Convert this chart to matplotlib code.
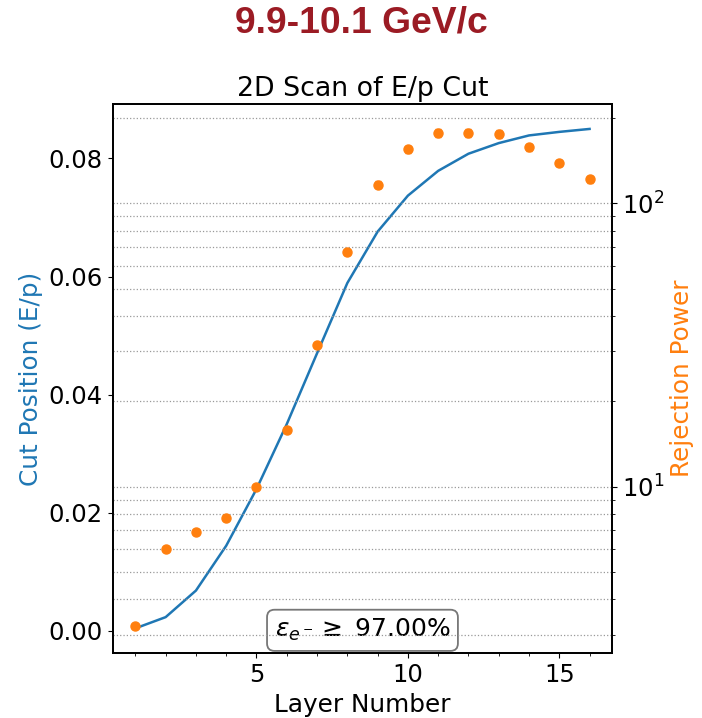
import matplotlib
matplotlib.use("Agg")
import matplotlib.pyplot as plt
import numpy as np

# ------------------------------------------------------------------
# Scan results per calorimeter layer
# ------------------------------------------------------------------
layers = np.arange(1, 17)
cut_position = [0.0004, 0.0023, 0.0068, 0.0144, 0.0240, 0.0350, 0.0470, 0.0589,
                0.0676, 0.0737, 0.0779, 0.0808, 0.0826, 0.0839, 0.0845, 0.0850]
rejection = [3.21, 6.0, 6.93, 7.72, 9.97, 15.9, 31.5, 67.2,
             116.4, 155.0, 176.9, 177.5, 175.4, 158.0, 138.7, 121.6]
rejection_err = [0.05, 0.08, 0.09, 0.1, 0.13, 0.25, 0.6, 1.5,
                 3.0, 4.5, 5.5, 5.5, 5.5, 4.5, 3.8, 3.2]

momentum_bin = "9.9-10.1 GeV/c"
efficiency = 97.00

plt.rcParams["font.family"] = ["DejaVu Sans"]

fig = plt.figure(figsize=(7.02, 7.18), dpi=100)
ax = fig.add_axes([0.1605, 0.0901, 0.7117, 0.7651])
ax2 = ax.twinx()

# Cut position (left axis)
ax.plot(layers, cut_position, color="#1f77b4", lw=1.8)
ax.set_ylabel("Cut Position (E/p)", color="#1f77b4", fontsize=17.8)
ax.set_xlabel("Layer Number", fontsize=17.8)
ax.set_title("2D Scan of E/p Cut", fontsize=19.3)
ax.set_xticks([5, 10, 15])
ax.set_xticks(layers, minor=True)
ax.tick_params(axis="both", which="major", labelsize=17.5)

# Rejection power (right axis, log scale)
ax2.errorbar(layers, rejection, yerr=rejection_err, fmt="o", color="#ff7f0e",
             ms=6.5, capsize=2.5, elinewidth=1.2)
ax2.set_yscale("log")
ax2.set_ylabel("Rejection Power", color="#ff7f0e", fontsize=17.8)
ax2.tick_params(axis="y", which="major", labelsize=17.5)
ax2.grid(True, which="both", axis="y", linestyle=":", color="#999999", lw=0.9)

for a in (ax, ax2):
    for sp in a.spines.values():
        sp.set_linewidth(1.3)

ax.text(0.5, 0.018, r"$\varepsilon_{e^-}\geq$ " + f"{efficiency:.2f}%",
        transform=ax.transAxes, ha="center", va="bottom", fontsize=18,
        bbox=dict(boxstyle="round,pad=0.3", fc="white", ec="#777777", lw=1.3))

fig.text(0.515, 0.968, momentum_bin, ha="center", va="center",
         fontsize=26.8, fontweight="bold", color="#9b1b24",
         family=["Liberation Sans", "DejaVu Sans"])

fig.savefig("out.png", dpi=100)
